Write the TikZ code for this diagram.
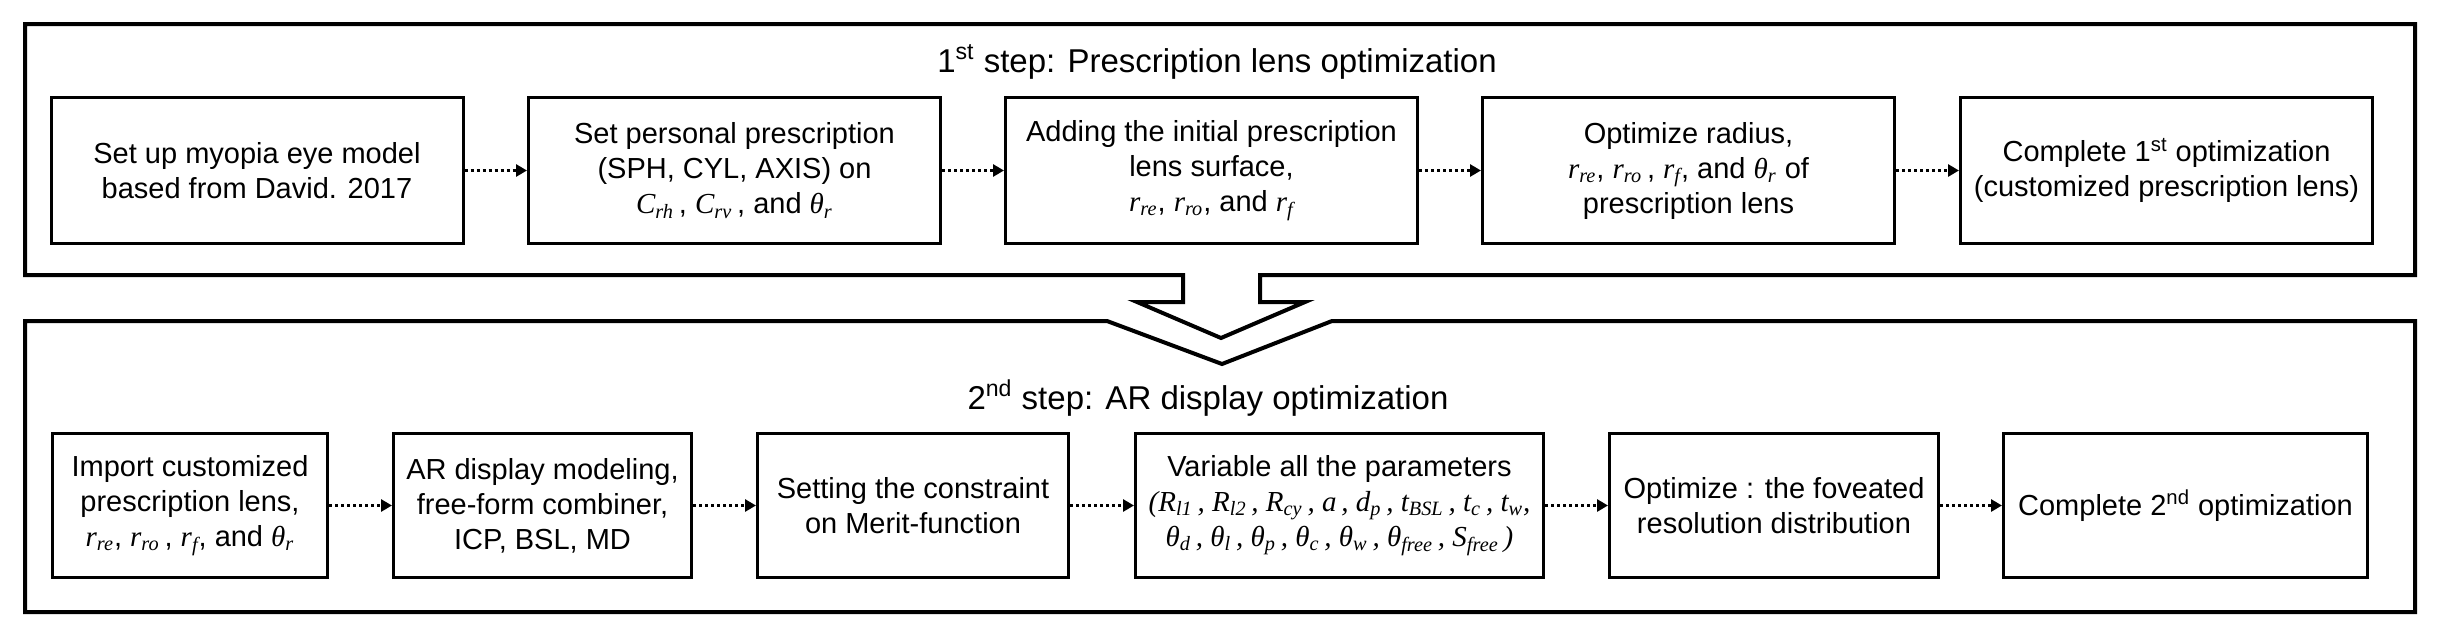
\documentclass[tikz,border=0pt]{standalone}
\usepackage{fontspec}
\setmainfont{Liberation Sans}
\newfontfamily\tms{Liberation Serif}
\usetikzlibrary{arrows.meta}
\newcommand\iv[2]{{\tms\itshape #1\textsubscript{#2}}}
\newcommand\ii[1]{{\tms\itshape #1}}
\begin{document}
\begin{tikzpicture}[x=0.5pt,y=-0.5pt,
  frame/.style={line width=2pt, line join=miter},
  box/.style={draw, line width=1.5pt, fill=white, align=center, inner sep=0pt,
    font=\fontsize{14.5}{17.5}\selectfont, minimum height=72pt},
  topbox/.style={box, minimum width=206pt, minimum height=73pt},
  ttl/.style={font=\fontsize{16.5}{19}\selectfont, anchor=base, inner sep=0pt},
  conn/.style={line width=1.5pt, dash pattern=on 1.5pt off 1.5pt,
    -{Triangle[length=5.5pt,width=6pt]}}]
\useasboundingbox (0,0) rectangle (2438,632);
% frames
\draw[frame] (25,24) -- (2415,24) -- (2415,275) -- (1260,275) -- (1260,302)
  -- (1305,302) -- (1221,338) -- (1137,302) -- (1183,302) -- (1183,275)
  -- (25,275) -- cycle;
\draw[frame] (25,321) -- (1107,321) -- (1222,364) -- (1332,321) -- (2415,321)
  -- (2415,612) -- (25,612) -- cycle;
% titles
\node[ttl] (t1) at (1217,72) {1\textsuperscript{st} step: Prescription lens optimization};
\node[ttl] (t2) at (1208,409) {2\textsuperscript{nd} step: AR display optimization};
% top row
\node[topbox] (a1) at (257,170.5) {Set up myopia eye model\\based from David. 2017};
\node[topbox] (a2) at (734.5,170.5) {Set personal prescription\\(SPH, CYL, AXIS) on\\\iv{C}{rh}\,, \iv{C}{rv}\,, and \iv{θ}{r}};
\node[topbox] (a3) at (1211.5,170.5) {Adding the initial prescription\\lens surface,\\\iv{r}{re}, \iv{r}{ro}, and \iv{r}{f}};
\node[topbox] (a4) at (1688.5,170.5) {Optimize radius,\\\iv{r}{re}, \iv{r}{ro}\,, \iv{r}{f}, and \iv{θ}{r} of\\prescription lens};
\node[topbox] (a5) at (2166.5,170.5) {Complete 1\textsuperscript{st} optimization\\(customized prescription lens)};
% bottom row
\node[box, minimum width=137.5pt] (b1) at (190,505.5) {Import customized\\prescription lens,\\\iv{r}{re}, \iv{r}{ro}\,, \iv{r}{f}, and \iv{θ}{r}};
\node[box, minimum width=149pt] (b2) at (542.5,505.5) {AR display modeling,\\free-form combiner,\\ICP, BSL, MD};
\node[box, minimum width=155.5pt] (b3) at (913,505.5) {Setting the constraint\\on Merit-function};
\node[box, minimum width=204pt] (b4) at (1339.5,505.5) {Variable all the parameters\\{\tms\itshape (R\textsubscript{l1}\,, R\textsubscript{l2}\,, R\textsubscript{cy}\,, a\,, d\textsubscript{p}\,, t\textsubscript{BSL}\,, t\textsubscript{c}\,, t\textsubscript{w},}\\{\tms\itshape θ\textsubscript{d}\,, θ\textsubscript{l}\,, θ\textsubscript{p}\,, θ\textsubscript{c}\,, θ\textsubscript{w}\,, θ\textsubscript{free}\,, S\textsubscript{free}\,)}};
\node[box, minimum width=164.5pt] (b5) at (1774,505.5) {Optimize : the foveated\\resolution distribution};
\node[box, minimum width=182pt] (b6) at (2185.5,505.5) {Complete 2\textsuperscript{nd} optimization};
% connectors
\draw[conn] (a1) -- (a2);
\draw[conn] (a2) -- (a3);
\draw[conn] (a3) -- (a4);
\draw[conn] (a4) -- (a5);
\draw[conn] (b1) -- (b2);
\draw[conn] (b2) -- (b3);
\draw[conn] (b3) -- (b4);
\draw[conn] (b4) -- (b5);
\draw[conn] (b5) -- (b6);
\end{tikzpicture}
\end{document}
